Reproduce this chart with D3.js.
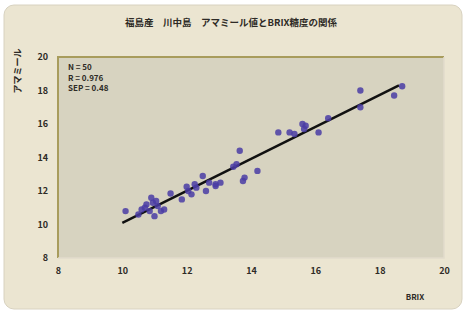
<!DOCTYPE html>
<html>
<head>
<meta charset="utf-8">
<script src="https://cdn.jsdelivr.net/npm/d3@7"></script>
<style>
  body { margin: 0; background: #fff; }
  svg text { font-family: "Noto Sans CJK JP", "DejaVu Sans", sans-serif; font-weight: bold; fill: #2e2b26; }
</style>
</head>
<body>
<svg width="466" height="314"></svg>
<script>
// BRIX vs アマミール値
const brix = [10.1, 10.6, 10.75, 10.9, 10.95, 10.85, 11.0, 11.2, 11.3, 10.7, 11.05, 11.5, 11.85, 12.0, 12.15,
  12.25, 12.5, 12.6, 12.9, 12.7, 12.9, 13.05, 13.45, 13.65, 13.75, 13.8, 14.2, 14.85, 15.2, 15.35,
  15.6, 15.7, 16.1, 16.4, 17.4, 17.4, 18.45, 18.7, 10.5, 11.1, 12.05, 13.55, 15.65, 12.3];
const amamiru = [10.8, 10.9, 11.2, 11.6, 11.3, 10.8, 10.5, 10.8, 10.9, 11.0, 11.4, 11.85, 11.5, 12.25, 11.8,
  12.4, 12.9, 12.0, 12.4, 12.5, 12.3, 12.5, 13.45, 14.4, 12.6, 12.8, 13.2, 15.5, 15.5, 15.4,
  16.0, 15.9, 15.5, 16.35, 18.0, 17.0, 17.7, 18.25, 10.6, 11.1, 12.0, 13.6, 15.7, 12.2];
const fitLine = [[10.0, 10.1], [18.6, 18.3]];
const xTicks = [8, 10, 12, 14, 16, 18, 20];
const yTicks = [8, 10, 12, 14, 16, 18, 20];
const stats = ['N = 50', 'R = 0.976', 'SEP = 0.48'];

const svg = d3.select('svg');

// card
svg.append('rect')
  .attr('x', 4).attr('y', 5).attr('width', 458).attr('height', 304)
  .attr('rx', 10)
  .attr('fill', '#ebe5d1')
  .attr('stroke', '#d8d2c0');

const x = d3.scaleLinear().domain([8, 20]).range([58, 444]);
const y = d3.scaleLinear().domain([8, 20]).range([258, 57]);

// plot area
svg.append('rect')
  .attr('x', x(8)).attr('y', y(20))
  .attr('width', x(20) - x(8)).attr('height', y(8) - y(20))
  .attr('fill', '#d7d3c0');
svg.append('path')
  .attr('d', `M${x(8)},${y(8)}V${y(20)}H${x(20)}`)
  .attr('fill', 'none')
  .attr('stroke', '#a89c5c')
  .attr('stroke-width', 2);
svg.append('path')
  .attr('d', `M${x(8)},${y(8)}H${x(20)}V${y(20)}`)
  .attr('fill', 'none')
  .attr('stroke', '#e2dccb')
  .attr('stroke-width', 1.5);

// axes
const xAxis = svg.append('g')
  .attr('transform', `translate(0,${y(8) + 6})`)
  .call(d3.axisBottom(x).tickValues(xTicks).tickSize(0).tickPadding(4));
xAxis.select('.domain').remove();
xAxis.selectAll('text').attr('font-size', 9);

const yAxis = svg.append('g')
  .attr('transform', `translate(${x(8) - 6},0)`)
  .call(d3.axisLeft(y).tickValues(yTicks).tickSize(0).tickPadding(4));
yAxis.select('.domain').remove();
yAxis.selectAll('text').attr('font-size', 9);

// titles
svg.append('text')
  .attr('x', 231).attr('y', 26)
  .attr('text-anchor', 'middle')
  .attr('font-size', 9.5)
  .text('福島産　川中島　アマミール値とBRIX糖度の関係');

svg.append('text')
  .attr('x', 415).attr('y', 300)
  .attr('text-anchor', 'middle')
  .attr('font-size', 8)
  .text('BRIX');

svg.append('text')
  .attr('transform', 'translate(21,71) rotate(-90)')
  .attr('text-anchor', 'middle')
  .attr('font-size', 9)
  .text('アマミール');

svg.selectAll('text.stat')
  .data(stats)
  .enter().append('text')
  .attr('class', 'stat')
  .attr('x', 68)
  .attr('y', (d, i) => 70 + i * 10.5)
  .attr('font-size', 8)
  .text(d => d);

// regression line
svg.append('line')
  .attr('x1', x(fitLine[0][0])).attr('y1', y(fitLine[0][1]))
  .attr('x2', x(fitLine[1][0])).attr('y2', y(fitLine[1][1]))
  .attr('stroke', '#111')
  .attr('stroke-width', 2.5);

// points
svg.selectAll('circle.pt')
  .data(brix.map((b, i) => [b, amamiru[i]]))
  .enter().append('circle')
  .attr('class', 'pt')
  .attr('cx', d => x(d[0]))
  .attr('cy', d => y(d[1]))
  .attr('r', 3.2)
  .attr('fill', '#4a3ca4')
  .attr('fill-opacity', 0.85);
</script>
</body>
</html>
